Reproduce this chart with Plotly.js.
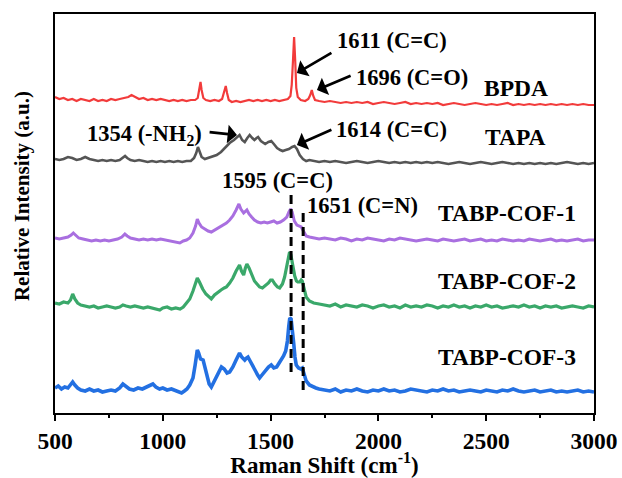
<!DOCTYPE html>
<html>
<head>
<meta charset="utf-8">
<script src="https://cdn.plot.ly/plotly-3.0.1.min.js"></script>
<style>html,body{margin:0;padding:0;background:#fff;}#chart{width:622px;height:478px;}</style>
</head>
<body>
<div id="chart"></div>
<script>
// Shared tail wavenumbers (flat region)
const tailX = [1750,1775,1800,1825,1850,1875,1900,1925,1950,1975,
  2000,2025,2050,2075,2100,2125,2150,2175,2200,2225,
  2250,2275,2300,2325,2350,2375,2400,2425,2450,2475,
  2500,2525,2550,2575,2600,2625,2650,2675,2700,2725,
  2750,2775,2800,2825,2850,2875,2900,2925,2950,2975,
  3000];

// BPDA
const bpdaX = [500,520,540,560,580,600,620,640,660,680,
  700,720,740,760,780,800,820,840,855,870,
  890,910,930,950,970,990,1010,1030,1050,1070,
  1090,1110,1130,1150,1162,1170,1175,1180,1188,1200,
  1220,1240,1260,1275,1285,1292,1298,1306,1320,1340,
  1360,1380,1400,1420,1440,1460,1480,1500,1520,1540,
  1560,1580,1592,1598,1604,1609,1614,1619,1626,1640,
  1660,1675,1684,1691,1698,1706,1725];
const bpdaY = [316,314,315,313,314,312,314,313,312,314,
  312,313,312,314,313,314,315,316,318,316,
  314,315,313,314,313,314,313,312,313,312,
  313,312,313,313,315,323,331,323,315,313,
  312,313,312,314,321,327,320,313,311,312,
  311,312,313,312,313,312,313,312,313,312,
  313,314,317,328,353,376,353,325,316,313,
  312,314,318,323,317,313,312];
const bpdaTail = [311,312,311,310,311,310,311,310,311,309,
  310,311,310,309,310,311,309,310,309,310,
  309,310,308,309,310,309,308,309,310,309,
  308,309,308,309,310,308,309,308,309,308,
  309,308,309,308,309,308,309,308,309,308,
  308];

// TAPA
const tapaX = [500,520,540,560,580,600,620,640,660,680,
  700,720,740,760,780,800,815,825,835,850,
  870,890,910,930,950,970,990,1010,1030,1050,
  1070,1090,1110,1130,1145,1155,1163,1170,1180,1195,
  1210,1230,1250,1270,1290,1310,1330,1345,1356,1368,
  1380,1392,1403,1415,1425,1435,1442,1455,1465,1475,
  1490,1503,1515,1530,1545,1556,1570,1585,1600,1611,
  1622,1635,1650,1665,1680,1700,1725];
const tapaY = [254,253,254,256,255,253,254,256,254,253,
  252,253,252,253,252,253,255,257,255,253,
  252,253,252,251,252,251,252,251,252,251,
  252,251,252,252,255,260,266,261,256,254,
  255,257,258,261,266,270,273,276,278,273,
  271,275,278,275,273,275,276,272,270,269,
  271,272,269,265,263,262,263,264,266,267,
  264,258,254,252,253,252,251];
const tapaTail = [252,251,252,251,250,251,252,251,250,251,
  252,251,250,251,250,251,250,251,250,251,
  250,251,250,249,250,251,250,249,250,251,
  250,249,250,251,250,249,250,249,250,249,
  250,249,250,249,250,251,250,249,250,249,
  250];

// TABP-COF-1
const cof1X = [500,520,540,560,575,585,595,610,630,650,
  670,690,710,730,750,770,790,810,824,835,
  850,870,890,910,930,950,970,990,1010,1030,
  1050,1065,1079,1095,1110,1125,1140,1152,1160,1168,
  1180,1195,1210,1225,1240,1255,1270,1285,1295,1310,
  1325,1340,1353,1362,1375,1390,1400,1412,1425,1440,
  1455,1470,1485,1500,1515,1530,1545,1560,1575,1585,
  1593,1600,1610,1622,1635,1642,1652,1665,1680,1700,1725];
const cof1Y = [175,174,175,176,178,180,178,175,174,173,
  172,173,172,173,172,173,174,176,179,177,
  175,174,173,174,173,174,173,174,173,172,
  171,170,170,172,173,175,180,187,194,190,
  186,184,182,181,183,185,187,189,190,193,
  197,203,209,204,200,203,199,196,193,191,
  190,191,190,191,192,190,191,193,196,201,
  204,201,192,188,187,186,182,177,176,175,174];
const cof1Tail = [175,174,173,175,174,172,174,173,175,174,
  173,172,174,173,175,174,173,172,173,174,
  173,172,174,173,172,173,174,172,173,174,
  172,173,172,174,173,172,173,172,174,173,
  172,173,174,172,173,172,173,174,172,173,
  173];

// TABP-COF-2
const cof2X = [500,520,540,560,572,582,592,605,620,640,
  660,680,700,720,740,760,780,800,815,830,
  850,870,890,910,930,950,970,986,1000,1020,
  1040,1060,1080,1095,1110,1125,1140,1152,1160,1170,
  1185,1200,1215,1225,1240,1255,1270,1285,1295,1310,
  1325,1340,1356,1365,1375,1383,1390,1400,1412,1425,
  1437,1449,1462,1475,1490,1500,1508,1520,1532,1542,
  1555,1565,1575,1582,1588,1594,1602,1612,1620,1626,
  1635,1642,1647,1655,1665,1680,1700,1725];
const cof2Y = [110,109,111,110,113,119,114,110,108,107,
  106,107,105,106,107,106,105,106,108,107,
  106,107,106,105,106,105,104,103,105,106,
  104,105,104,106,110,114,122,130,135,131,
  124,119,116,114,118,121,123,125,126,130,
  135,142,148,142,138,145,149,145,138,132,
  129,126,125,127,130,133,133,129,126,125,
  129,136,146,155,161,158,148,137,132,131,
  131,133,132,124,116,112,110,109];
const cof2Tail = [108,107,109,106,108,107,106,108,107,105,
  107,108,106,107,105,108,106,107,106,108,
  107,105,107,106,108,106,107,105,107,106,
  108,106,107,105,106,107,106,108,106,107,
  105,107,106,107,105,106,107,106,105,107,
  106];

// TABP-COF-3
const cof3X = [500,515,530,545,560,572,582,592,605,620,
  640,660,680,700,720,740,760,780,800,815,
  828,845,865,885,905,925,940,954,968,985,
  1000,1020,1040,1060,1075,1087,1100,1112,1125,1140,
  1150,1156,1160,1166,1175,1187,1195,1205,1215,1225,
  1235,1250,1262,1272,1285,1298,1310,1325,1340,1356,
  1366,1380,1388,1395,1405,1418,1430,1440,1449,1460,
  1475,1490,1503,1515,1528,1540,1550,1560,1570,1578,
  1584,1589,1595,1601,1607,1613,1619,1630,1640,1647,
  1655,1665,1680,1695,1710,1725];
const cof3Y = [25,27,24,26,25,28,31,28,25,23,
  22,24,22,23,21,22,23,22,25,29,
  27,24,23,25,24,26,27,29,26,24,
  25,23,24,22,21,20,22,24,28,35,
  48,58,63,60,54,53,45,36,29,26,
  30,36,42,46,44,40,41,46,53,60,
  56,53,55,56,52,46,42,38,35,38,
  42,46,48,45,46,50,54,57,62,72,
  86,95,94,84,70,56,48,45,44,45,
  39,32,28,26,25,24];
const cof3Tail = [23,22,24,21,23,22,24,22,21,23,
  22,24,22,23,21,22,24,23,22,21,
  23,22,24,22,23,21,22,23,22,21,
  23,22,21,23,22,24,22,21,22,23,
  21,22,23,21,22,21,22,23,21,22,
  21];

const seriesNames = ['BPDA','TAPA','TABP-COF-1','TABP-COF-2','TABP-COF-3'];
const peakMarks = [1595, 1651];

const serif = 'Liberation Serif';
const specs = [
  {x: bpdaX, y: bpdaY, t: bpdaTail, c: '#f23b3b', w: 2.2},
  {x: tapaX, y: tapaY, t: tapaTail, c: '#555555', w: 2.6},
  {x: cof1X, y: cof1Y, t: cof1Tail, c: '#a96fe0', w: 3.0},
  {x: cof2X, y: cof2Y, t: cof2Tail, c: '#3aa86a', w: 3.2},
  {x: cof3X, y: cof3Y, t: cof3Tail, c: '#2370e2', w: 3.6}
];
const traces = specs.map((s, i) => ({
  type: 'scatter', mode: 'lines', name: seriesNames[i],
  x: s.x.concat(tailX), y: s.y.concat(s.t),
  line: {color: s.c, width: s.w}, hoverinfo: 'skip'
}));

const txt = (text, x, y, size) => ({
  text: '<b>' + text + '</b>', x: x, y: y, xref: 'x', yref: 'y',
  showarrow: false, xanchor: 'center', yanchor: 'middle',
  font: {family: serif, size: size || 22.5, color: '#000'}
});
const arr = (hx, hy, tx, ty) => ({
  text: '', x: hx, y: hy, ax: tx, ay: ty, xref: 'x', yref: 'y', axref: 'x', ayref: 'y',
  showarrow: true, arrowhead: 1, arrowsize: 1.15, arrowwidth: 2.7, arrowcolor: '#000', standoff: 0
});

const annotations = [
  txt('1611 (C=C)', 2063, 373),
  txt('1696 (C=O)', 2156, 336),
  txt(seriesNames[0], 2638, 325, 23.5),
  txt(seriesNames[1], 2638, 276, 23.5),
  txt('1614 (C=C)', 2063, 284),
  txt('1354 (-NH<sub>2</sub>)', 917, 278),
  txt('1595 (C=C)', 1530, 233),
  txt('1651 (C=N)', 1924, 208),
  txt(seriesNames[2], 2596, 200, 23.5),
  txt(seriesNames[3], 2596, 132, 23.5),
  txt(seriesNames[4], 2596, 56, 23.5),
  arr(1622, 340, 1789, 361),
  arr(1715, 323, 1878, 338),
  arr(1622, 268, 1789, 284),
  arr(1344, 278, 1210, 281),
  {text: '<b>Relative Intensity (a.u.)</b>', xref: 'paper', yref: 'paper', x: -0.061, y: 0.544,
   textangle: -90, showarrow: false, xanchor: 'center', yanchor: 'middle',
   font: {family: serif, size: 21, color: '#000'}}
];

const shapes = [
  {type: 'line', xref: 'x', yref: 'y', x0: peakMarks[0], x1: peakMarks[0], y0: 41, y1: 218,
   line: {color: '#000', width: 3, dash: '9px,5px'}},
  {type: 'line', xref: 'x', yref: 'y', x0: peakMarks[1], x1: peakMarks[1], y0: 23, y1: 200,
   line: {color: '#000', width: 3, dash: '9px,5px'}}
];

const layout = {
  width: 622, height: 478,
  margin: {l: 55, r: 28, t: 14, b: 65},
  paper_bgcolor: '#fff', plot_bgcolor: '#fff',
  showlegend: false,
  font: {family: serif},
  xaxis: {
    range: [500, 3000], tickmode: 'linear', tick0: 500, dtick: 500,
    ticks: 'outside', ticklen: 6, tickwidth: 2, tickcolor: '#000',
    minor: {dtick: 250, tick0: 500, ticks: 'outside', ticklen: 3, tickwidth: 2, tickcolor: '#000'},
    showline: true, linewidth: 2, linecolor: '#000', mirror: true,
    showgrid: false, zeroline: false,
    tickfont: {family: serif, size: 23.5, color: '#000', weight: 'bold'},
    title: {text: '<b>Raman Shift (cm<sup>-1</sup>)</b>', font: {family: serif, size: 23, color: '#000'}, standoff: 4},
    automargin: false
  },
  yaxis: {
    range: [0, 399], showticklabels: false, ticks: '',
    showline: true, linewidth: 2, linecolor: '#000', mirror: true,
    showgrid: false, zeroline: false, automargin: false
  },
  annotations: annotations,
  shapes: shapes
};

Plotly.newPlot('chart', traces, layout, {displayModeBar: false, staticPlot: true});
</script>
</body>
</html>
